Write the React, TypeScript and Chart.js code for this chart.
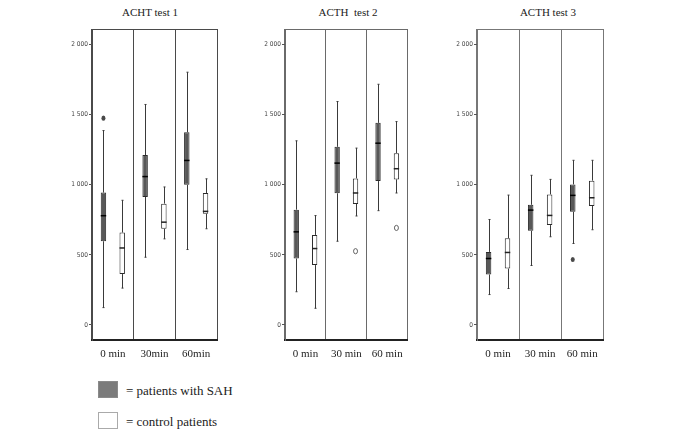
import React, { useEffect, useRef } from "react";
import { Chart, registerables } from "chart.js";

Chart.register(...registerables);

// ---- data ----
// each entry: [min, q1, median, q3, max] for 0 / 30 / 60 min
const test1Labels = ["0 min", "30min", "60min"];
const test1Sah = [
  [124, 597, 779, 944, 1386],
  [483, 913, 1058, 1211, 1572],
  [538, 999, 1173, 1374, 1802],
];
const test1SahOutliers = [[1474], [], []];
const test1Ctrl = [
  [263, 363, 549, 659, 889],
  [614, 686, 733, 865, 984],
  [686, 793, 810, 941, 1042],
];
const test1CtrlOutliers = [[], [], []];

const test2Labels = ["0 min", "30 min", "60 min"];
const test2Sah = [
  [237, 474, 664, 822, 1313],
  [597, 939, 1154, 1270, 1593],
  [815, 1026, 1296, 1441, 1716],
];
const test2SahOutliers = [[], [], []];
const test2Ctrl = [
  [119, 427, 545, 642, 780],
  [777, 863, 941, 1045, 1261],
  [941, 1038, 1114, 1225, 1450],
];
const test2CtrlOutliers = [[], [526], [692]];

const test3Labels = ["0 min", "30 min", "60 min"];
const test3Sah = [
  [217, 360, 474, 521, 752],
  [424, 671, 819, 857, 1067],
  [581, 807, 924, 1002, 1174],
];
const test3SahOutliers = [[], [], [467]];
const test3Ctrl = [
  [260, 402, 517, 619, 926],
  [629, 712, 781, 931, 1038],
  [679, 848, 907, 1029, 1174],
];
const test3CtrlOutliers = [[], [], []];

const yTicks = [0, 500, 1000, 1500, 2000];
const panelTitles = ["ACHT test 1", "ACTH\u00a0 test 2", "ACTH test 3"];
const legendLabels = ["= patients with SAH", "= control patients"];

type Panel = {
  title: string;
  labels: string[];
  sah: number[][];
  sahOut: number[][];
  ctrl: number[][];
  ctrlOut: number[][];
  left: number;
  width: number;
  titleX: number;
  frame: string;
};

const panels: Panel[] = [
  { title: panelTitles[0], labels: test1Labels, sah: test1Sah, sahOut: test1SahOutliers, ctrl: test1Ctrl, ctrlOut: test1CtrlOutliers, left: 62, width: 157, titleX: 150, frame: "#4a4a4a" },
  { title: panelTitles[1], labels: test2Labels, sah: test2Sah, sahOut: test2SahOutliers, ctrl: test2Ctrl, ctrlOut: test2CtrlOutliers, left: 255, width: 156, titleX: 348, frame: "#6a6a6a" },
  { title: panelTitles[2], labels: test3Labels, sah: test3Sah, sahOut: test3SahOutliers, ctrl: test3Ctrl, ctrlOut: test3CtrlOutliers, left: 447, width: 159, titleX: 548, frame: "#777777" },
];

const CANVAS_H = 362;
const SAH_FILL = "#585858";
const SAH_LINE = "#2b2b2b";
const CTRL_FILL = "#ffffff";
const CTRL_LINE = "#2b2b2b";

function makeBoxPlugin(p: Panel) {
  return {
    id: "boxWhiskers",
    afterDatasetsDraw(chart: any) {
      const ctx = chart.ctx as CanvasRenderingContext2D;
      const ys = chart.scales.y;
      const groups = [
        { stats: p.sah, outs: p.sahOut, filled: true },
        { stats: p.ctrl, outs: p.ctrlOut, filled: false },
      ];
      ctx.save();
      groups.forEach((g, di) => {
        const meta = chart.getDatasetMeta(di);
        g.stats.forEach((s, i) => {
          const bar = meta.data[i];
          if (!bar) return;
          const cx = Math.round(bar.x) + 0.5;
          const w = bar.width;
          const [mn, q1, md, q3, mx] = s;
          const yMin = ys.getPixelForValue(mn);
          const yQ1 = ys.getPixelForValue(q1);
          const yMd = ys.getPixelForValue(md);
          const yQ3 = ys.getPixelForValue(q3);
          const yMax = ys.getPixelForValue(mx);
          ctx.strokeStyle = "#3a3a3a";
          ctx.lineWidth = 1;
          ctx.beginPath();
          ctx.moveTo(cx, yQ3);
          ctx.lineTo(cx, yMax);
          ctx.moveTo(cx, yQ1);
          ctx.lineTo(cx, yMin);
          ctx.moveTo(cx - 1, yMax);
          ctx.lineTo(cx + 1, yMax);
          ctx.moveTo(cx - 1, yMin);
          ctx.lineTo(cx + 1, yMin);
          ctx.stroke();
          // median
          ctx.strokeStyle = g.filled ? "#000000" : "#222222";
          ctx.lineWidth = 1.5;
          ctx.beginPath();
          ctx.moveTo(bar.x - w / 2, yMd);
          ctx.lineTo(bar.x + w / 2, yMd);
          ctx.stroke();
          // outliers
          (g.outs[i] || []).forEach((v) => {
            const oy = ys.getPixelForValue(v);
            ctx.beginPath();
            ctx.ellipse(bar.x, oy, 2, 2.6, 0, 0, Math.PI * 2);
            if (g.filled) {
              ctx.fillStyle = "#4a4a4a";
              ctx.fill();
            } else {
              ctx.strokeStyle = "#555555";
              ctx.lineWidth = 0.9;
              ctx.stroke();
            }
          });
        });
      });
      // top frame line
      const a = chart.chartArea;
      ctx.strokeStyle = p.frame;
      ctx.lineWidth = 1;
      ctx.beginPath();
      ctx.moveTo(a.left, a.top + 0.5);
      ctx.lineTo(a.right, a.top + 0.5);
      ctx.stroke();
      ctx.restore();
    },
  };
}

function fmt(v: number): string {
  if (v >= 1000) {
    const th = Math.floor(v / 1000);
    const rest = String(v % 1000).padStart(3, "0");
    return th + " " + rest;
  }
  return String(v);
}

function BoxPanel({ p }: { p: Panel }) {
  const ref = useRef<HTMLCanvasElement | null>(null);
  useEffect(() => {
    if (!ref.current) return;
    const chart = new Chart(ref.current, {
      type: "bar",
      data: {
        labels: p.labels,
        datasets: [
          {
            label: legendLabels[0],
            data: p.sah.map((s) => [s[1], s[3]]) as any,
            backgroundColor: SAH_FILL,
            borderColor: SAH_LINE,
            borderWidth: 1,
            borderSkipped: false,
            categoryPercentage: 0.9,
            barPercentage: 0.29,
          },
          {
            label: legendLabels[1],
            data: p.ctrl.map((s) => [s[1], s[3]]) as any,
            backgroundColor: CTRL_FILL,
            borderColor: CTRL_LINE,
            borderWidth: 1,
            borderSkipped: false,
            categoryPercentage: 0.9,
            barPercentage: 0.29,
          },
        ],
      },
      options: {
        animation: false,
        responsive: false,
        devicePixelRatio: 1,
        layout: { padding: { top: 29, right: 2, left: 0, bottom: 0 } },
        plugins: {
          legend: { display: false },
          tooltip: { enabled: false },
          title: { display: false },
        },
        scales: {
          x: {
            type: "category",
            offset: true,
            grid: {
              offset: true,
              display: true,
              drawOnChartArea: true,
              drawTicks: false,
              color: p.frame,
              lineWidth: 1,
            },
            border: { display: true, color: "#222222", width: 2 },
            ticks: {
              padding: 8,
              color: "#222222",
              font: { family: "'Liberation Serif', 'Times New Roman', serif", size: 11 },
              maxRotation: 0,
              autoSkip: false,
            },
            afterFit: (scale: any) => {
              scale.height = 22;
            },
          },
          y: {
            type: "linear",
            min: -107,
            max: 2110,
            bounds: "data",
            stacked: false,
            afterBuildTicks: (scale: any) => {
              scale.ticks = yTicks.map((v) => ({ value: v }));
            },
            grid: {
              display: true,
              drawOnChartArea: false,
              drawTicks: true,
              tickLength: 3,
              color: "#555555",
            },
            border: { display: true, color: p.frame, width: 1 },
            ticks: {
              padding: 1,
              color: "#444444",
              font: { family: "'Liberation Sans Narrow', 'Arial Narrow', 'DejaVu Sans Condensed', sans-serif", size: 6.5 },
              callback: (v: any) => fmt(Number(v)),
            },
            afterFit: (scale: any) => {
              scale.width = 30;
            },
          },
        },
      },
      plugins: [makeBoxPlugin(p)],
    });
    return () => chart.destroy();
  }, [p]);

  return (
    <canvas
      ref={ref}
      width={p.width}
      height={CANVAS_H}
      style={{ position: "absolute", left: p.left, top: 0, width: p.width, height: CANVAS_H }}
    />
  );
}

export default function App() {
  const serif = "'Liberation Serif', 'Times New Roman', serif";
  return (
    <div style={{ position: "absolute", left: 0, top: 0, width: 685, height: 436, background: "#ffffff", overflow: "hidden" }}>
      {panels.map((p, i) => (
        <div
          key={"t" + i}
          style={{
            position: "absolute",
            left: p.titleX,
            top: 6,
            transform: "translateX(-50%)",
            fontFamily: serif,
            fontSize: 11,
            lineHeight: "13px",
            color: "#222",
            whiteSpace: "pre",
          }}
        >
          {p.title}
        </div>
      ))}
      {panels.map((p, i) => (
        <BoxPanel key={"c" + i} p={p} />
      ))}
      <div style={{ position: "absolute", left: 98, top: 381, width: 18, height: 15, background: "#7b7b7b", border: "1px solid #8a8a8a" }} />
      <div style={{ position: "absolute", left: 126, top: 383, fontFamily: serif, fontSize: 13, lineHeight: "16px", color: "#222" }}>
        {legendLabels[0]}
      </div>
      <div style={{ position: "absolute", left: 98, top: 412, width: 18, height: 15, background: "#ffffff", border: "1px solid #aaaaaa" }} />
      <div style={{ position: "absolute", left: 126, top: 414, fontFamily: serif, fontSize: 13, lineHeight: "16px", color: "#222" }}>
        {legendLabels[1]}
      </div>
    </div>
  );
}
